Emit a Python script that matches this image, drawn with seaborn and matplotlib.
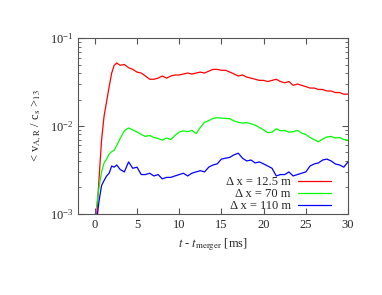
import numpy as np
import pandas as pd
import matplotlib
matplotlib.use("Agg")
import matplotlib.pyplot as plt
import seaborn as sns

# time after merger [ms]
t_ms = [0.2, 0.5, 0.8, 1.1, 1.4, 1.7, 2.0, 2.3, 2.6, 3.0, 3.5, 4.0, 4.5, 5.0, 5.5,
        6.0, 6.5, 7.0, 7.5, 8.0, 8.5, 9.0, 9.5, 10.0, 10.5, 11.0, 11.5, 12.0, 12.5,
        13.0, 13.5, 14.0, 14.5, 15.0, 15.5, 16.0, 16.5, 17.0, 17.5, 18.0, 18.5, 19.0,
        19.5, 20.0, 20.5, 21.0, 21.5, 22.0, 22.5, 23.0, 23.5, 24.0, 24.5, 25.0, 25.5,
        26.0, 26.5, 27.0, 27.5, 28.0, 28.5, 29.0, 29.5, 30.0]

# <v_A,R / c_s>_13 for each resolution
v_12p5 = [0.0009, 0.0025, 0.0069, 0.013, 0.019, 0.028, 0.040, 0.049, 0.052, 0.049,
          0.050, 0.046, 0.044, 0.041, 0.040, 0.037, 0.034, 0.034, 0.035, 0.037,
          0.035, 0.037, 0.038, 0.038, 0.039, 0.040, 0.039, 0.040, 0.041, 0.040,
          0.042, 0.044, 0.044, 0.043, 0.043, 0.041, 0.039, 0.037, 0.038, 0.036,
          0.035, 0.034, 0.033, 0.033, 0.032, 0.033, 0.034, 0.032, 0.031, 0.032,
          0.029, 0.030, 0.029, 0.028, 0.027, 0.027, 0.026, 0.026, 0.025, 0.025,
          0.024, 0.024, 0.023, 0.023]
v_70 = [0.0012, 0.0020, 0.0030, 0.0038, 0.0042, 0.0048, 0.0051, 0.0053, 0.0060, 0.0072,
        0.0088, 0.0095, 0.0090, 0.0085, 0.0080, 0.0076, 0.0078, 0.0074, 0.0072, 0.0069,
        0.0073, 0.0070, 0.0078, 0.0085, 0.0088, 0.0086, 0.0089, 0.0082, 0.0096, 0.0110,
        0.0115, 0.0122, 0.0124, 0.0123, 0.0122, 0.0121, 0.0114, 0.0110, 0.0108, 0.0109,
        0.0106, 0.0102, 0.0096, 0.0090, 0.0084, 0.0085, 0.0093, 0.0088, 0.0089, 0.0085,
        0.0086, 0.0089, 0.0083, 0.0080, 0.0074, 0.0070, 0.0066, 0.0071, 0.0075, 0.0076,
        0.0073, 0.0074, 0.0070, 0.0069]
v_110 = [0.0008, 0.0014, 0.0021, 0.0024, 0.0027, 0.0029, 0.0035, 0.0034, 0.0036, 0.0032,
         0.0030, 0.0039, 0.0033, 0.0034, 0.0028, 0.0028, 0.0029, 0.0027, 0.0028, 0.0025,
         0.0026, 0.0026, 0.0027, 0.0028, 0.0029, 0.0027, 0.0029, 0.0030, 0.0031, 0.0030,
         0.0034, 0.0036, 0.0037, 0.0042, 0.0043, 0.0044, 0.0047, 0.0049, 0.0043, 0.0040,
         0.0041, 0.0038, 0.0039, 0.0037, 0.0035, 0.0033, 0.0027, 0.0028, 0.0028, 0.0030,
         0.0027, 0.0028, 0.0029, 0.0030, 0.0035, 0.0037, 0.0038, 0.0041, 0.0042, 0.0040,
         0.0037, 0.0036, 0.0034, 0.0039]

labels = ["Δ x = 12.5 m", "Δ x = 70 m", "Δ x = 110 m"]
colors = ["#ff0000", "#00ff00", "#0000ff"]

df = pd.concat([
    pd.DataFrame({"t": t_ms, "v": v, "run": lab})
    for v, lab in zip([v_12p5, v_70, v_110], labels)
])

sns.set_style("ticks")
plt.rcParams["font.family"] = ["Liberation Serif", "DejaVu Serif"]
plt.rcParams["mathtext.fontset"] = "stix"

fig = plt.figure(figsize=(3.82, 2.95), dpi=100)
ax = fig.add_axes([0.204, 0.275, 0.707, 0.596])
sns.lineplot(data=df, x="t", y="v", hue="run", palette=colors, linewidth=0.9, ax=ax)

ax.set_yscale("log")
ax.set_xlim(-2, 30)
ax.set_ylim(1e-3, 1e-1)
ax.set_xticks([0, 5, 10, 15, 20, 25, 30])
ax.tick_params(which="both", direction="in", top=True, right=True, labelsize=9,
               color="#555555")
ax.tick_params(which="major", length=4)
ax.tick_params(which="minor", length=2)
for s in ax.spines.values():
    s.set_color("#555555")
    s.set_linewidth(0.8)

ax.set_xlabel("$t$ - $t_{\\rm merger}$ [ms]", fontsize=9)
ax.set_ylabel("< v$_{\\rm A,R}$ / c$_{\\rm s}$ >$_{13}$", fontsize=9)

leg = ax.legend(loc="lower right", bbox_to_anchor=(0.955, -0.02), frameon=False,
                fontsize=9, markerfirst=False, handlelength=2.6, handletextpad=0.6,
                labelspacing=0.0, borderaxespad=0.0)
for t in leg.get_texts():
    t.set_ha("right")

fig.savefig("out.png", dpi=100)
